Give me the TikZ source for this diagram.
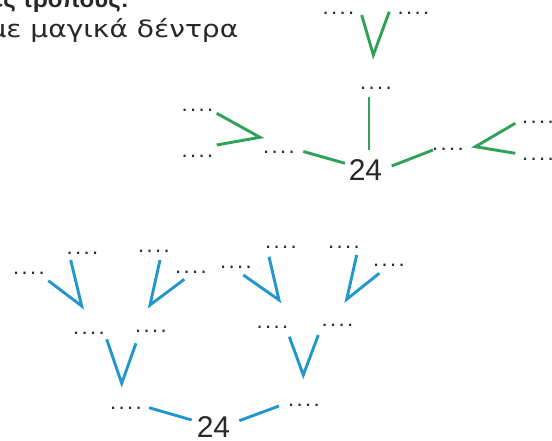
\documentclass[tikz,border=0pt]{standalone}
\usepackage{fontspec}
\setmainfont{Liberation Sans}
\newfontfamily\headfont[FakeStretch=1.18]{DejaVu Sans}
\usetikzlibrary{calc}
\definecolor{treegreen}{RGB}{47,162,87}
\definecolor{treeblue}{RGB}{35,150,205}
\definecolor{ink}{RGB}{40,40,40}
\newcommand{\blank}{.\kern2.4pt.\kern2.4pt.\kern2.4pt.}
\tikzset{
  blankdots/.style={inner sep=0pt,text=ink,font=\fontsize{22}{22}\selectfont},
  numlabel/.style={inner sep=0pt,text=ink,font=\fontsize{30}{30}\selectfont},
  headline/.style={anchor=base east,inner sep=0pt,text=ink,font=\headfont\fontsize{23.8}{23.8}\selectfont},
  gbranch/.style={treegreen,line width=2.9pt},
  bbranch/.style={treeblue,line width=2.9pt}
}

\begin{document}
\begin{tikzpicture}[x=1pt,y=-1pt]
        \clip (0,0) rectangle (552,441);
        \node[headline,font=\bfseries\fontsize{24}{24}\selectfont] (head1) at (129,8) {ες τρόπους:};
        \node[headline] (head2) at (238.5,38) {με μαγικά δέντρα};

        % green tree
        \node[blankdots] (t1) at (338.5,13) {\blank};
        \node[blankdots] (t2) at (413.5,13) {\blank};
        \node[blankdots] (m) at (376,88) {\blank};
        \node[blankdots] (g1) at (197.5,110) {\blank};
        \node[blankdots] (g2) at (197.5,156) {\blank};
        \node[blankdots] (g3) at (279,152) {\blank};
        \node[blankdots] (h) at (448,149) {\blank};
        \node[blankdots] (h1) at (538,122.7) {\blank};
        \node[blankdots] (h2) at (538,159) {\blank};
        \node[numlabel] (r24) at (365.5,170) {24};
        \coordinate (gv0) at (373.3,55);
        \coordinate (gv1) at (260,137.3);
        \coordinate (gv2) at (475.3,146.7);
        \draw[gbranch] ([shift={(23.2,2)}]t1.center) -- (gv0) -- ([shift={(-24.2,-1.3)}]t2.center);
        \draw[gbranch] ([shift={(19.2,3.3)}]g1.center) -- (gv1) -- ([shift={(19.2,-11)}]g2.center);
        \draw[gbranch] ([shift={(-22.7,0.6)}]h1.center) -- (gv2) -- ([shift={(-22.7,-5.7)}]h2.center);
        \draw[gbranch] ([shift={(-7,8.7)}]m.center) -- ([shift={(3.5,-20)}]r24.center);
        \draw[gbranch] ([shift={(24.3,-0.5)}]g3.center) -- ([shift={(-20.5,-6.7)}]r24.center);
        \draw[gbranch] ([shift={(26.2,-4)}]r24.center) -- ([shift={(-15,1)}]h.center);

        % blue tree
        \node[blankdots] (a1) at (29,273) {\blank};
        \node[blankdots] (a2) at (82.5,253) {\blank};
        \node[blankdots] (a3) at (154,251) {\blank};
        \node[blankdots] (a4) at (191,272) {\blank};
        \node[blankdots] (b1) at (89,333) {\blank};
        \node[blankdots] (b2) at (151,331) {\blank};
        \node[blankdots] (c1) at (126,408) {\blank};
        \node[blankdots] (d1) at (236,267) {\blank};
        \node[blankdots] (d2) at (281,247) {\blank};
        \node[blankdots] (d3) at (344,247) {\blank};
        \node[blankdots] (d4) at (389,265) {\blank};
        \node[blankdots] (e1) at (272.5,327) {\blank};
        \node[blankdots] (e2) at (337.5,325) {\blank};
        \node[blankdots] (f) at (304,405.7) {\blank};
        \node[numlabel] (l24) at (213.5,427.5) {24};
        \coordinate (bv1) at (81.7,306);
        \coordinate (bv2) at (150,305);
        \coordinate (bv3) at (121.7,383.3);
        \coordinate (bv4) at (279,300);
        \coordinate (bv5) at (346.7,299.3);
        \coordinate (bv6) at (303.3,375);
        \draw[bbranch] ([shift={(19.3,7.7)}]a1.center) -- (bv1) -- ([shift={(-11.8,7)}]a2.center);
        \draw[bbranch] ([shift={(6,9)}]a3.center) -- (bv2) -- ([shift={(-6.7,7.3)}]a4.center);
        \draw[bbranch] ([shift={(17.7,6.3)}]b1.center) -- (bv3) -- ([shift={(-15,12.3)}]b2.center);
        \draw[bbranch] ([shift={(7.3,8)}]d1.center) -- (bv4) -- ([shift={(-12,9.7)}]d2.center);
        \draw[bbranch] ([shift={(12.7,8)}]d3.center) -- (bv5) -- ([shift={(-9.7,8.3)}]d4.center);
        \draw[bbranch] ([shift={(16.8,9.7)}]e1.center) -- (bv6) -- ([shift={(-19.2,10)}]e2.center);
        \draw[bbranch] ([shift={(23,-0.3)}]c1.center) -- ([shift={(-21.8,-7.5)}]l24.center);
        \draw[bbranch] ([shift={(25.8,-6.8)}]l24.center) -- ([shift={(-25,0.3)}]f.center);
\end{tikzpicture}
\end{document}
